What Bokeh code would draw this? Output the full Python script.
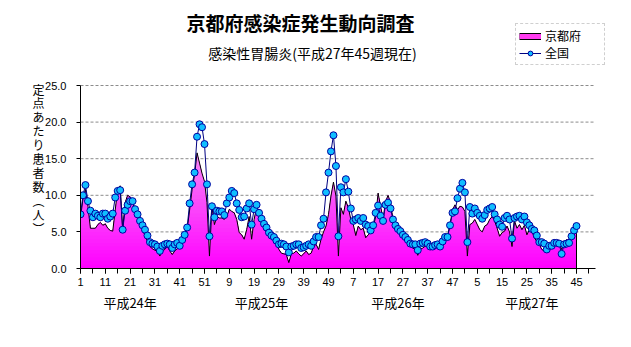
import numpy as np
from bokeh.plotting import figure
from bokeh.models import (Range1d, FixedTicker, Label, Legend, LegendItem,
                          NumeralTickFormatter, LinearAxis)
from bokeh.embed import file_html
from bokeh.resources import INLINE

# ---------------- data ----------------
title = "京都府感染症発生動向調査"
subtitle = "感染性胃腸炎(平成27年45週現在)"
y_axis_chars = ["定", "点", "あ", "た", "り", "患", "者", "数", "︵", "人", "︶"]
year_labels = ["平成24年", "平成25年", "平成26年", "平成27年"]
weeks_per_year = [52, 52, 52, 45]
series_names = ["京都府", "全国"]
y_ticks = [0, 5, 10, 15, 20, 25]

kyoto_h24 = [7.0, 9.5, 10.8, 8.5, 5.5, 5.5, 5.5, 6.0, 6.3, 5.9,
             6.1, 5.5, 5.2, 5.1, 8.0, 10.8, 11.3, 5.3, 9.0, 10.0,
             9.8, 9.0, 8.0, 7.1, 6.2, 5.3, 4.5, 3.7, 3.0, 2.7,
             2.5, 2.4, 1.7, 2.4, 2.6, 3.0, 2.4, 1.9, 2.4, 2.7,
             2.8, 3.3, 4.2, 5.3, 8.0, 10.8, 12.8, 15.8, 14.4, 13.0,
             11.9, 9.0]
kyoto_h25 = [1.7, 8.5, 6.0, 7.1, 6.9, 6.9, 6.7, 7.1, 8.1, 7.8,
             7.6, 6.7, 4.9, 4.6, 4.0, 5.3, 7.1, 4.0, 6.7, 8.3,
             7.4, 6.2, 5.5, 4.9, 4.4, 4.2, 3.9, 3.3, 2.6, 2.1,
             2.0, 1.9, 0.8, 2.0, 2.1, 2.4, 2.0, 1.7, 2.0, 2.4,
             1.9, 2.1, 3.0, 3.3, 2.6, 4.0, 5.0, 5.8, 7.4, 9.9,
             11.8, 9.9]
kyoto_h26 = [1.7, 8.3, 7.4, 9.2, 8.3, 6.7, 6.0, 4.5, 5.8, 5.3,
             5.5, 4.2, 4.6, 4.9, 5.5, 7.1, 10.3, 8.5, 6.8, 9.1,
             10.0, 9.0, 6.7, 5.8, 5.3, 4.9, 4.4, 4.0, 3.5, 3.1,
             2.8, 2.6, 1.8, 2.6, 2.8, 3.05, 2.95, 2.7, 2.8, 2.95,
             3.05, 2.7, 3.5, 4.2, 4.4, 6.0, 8.0, 8.7, 8.0, 8.5,
             8.4, 7.8]
kyoto_h27 = [1.7, 6.0, 6.2, 6.7, 6.0, 5.3, 5.0, 5.8, 6.0, 6.7,
             7.1, 6.5, 5.5, 4.4, 4.9, 5.1, 5.8, 5.0, 3.0, 6.5,
             5.5, 6.0, 5.3, 5.9, 4.6, 5.3, 5.1, 4.2, 3.7, 3.3,
             2.6, 2.4, 2.4, 2.8, 2.8, 3.3, 3.4, 3.5, 2.6, 3.5,
             3.95, 3.8, 4.6, 6.0, 6.2]

national_h24 = [7.4, 10.0, 11.4, 9.2, 7.9, 7.0, 7.5, 7.2, 7.0, 7.5,
                7.5, 6.8, 7.1, 7.5, 9.7, 10.6, 10.7, 5.3, 7.9, 8.7,
                9.2, 9.2, 8.1, 7.4, 6.5, 5.9, 5.3, 4.5, 3.6, 3.4,
                3.3, 3.0, 2.4, 3.1, 3.3, 3.4, 3.3, 2.8, 3.3, 3.5,
                3.1, 3.9, 4.6, 5.6, 8.9, 11.5, 13.1, 18.0, 19.7, 19.3,
                17.0, 11.5]
national_h25 = [4.4, 8.5, 7.0, 7.9, 7.8, 7.8, 7.3, 8.9, 9.7, 10.6,
                10.3, 8.9, 8.0, 7.0, 7.1, 8.2, 8.9, 6.0, 8.1, 8.7,
                7.6, 6.8, 6.1, 5.6, 4.9, 4.5, 4.3, 3.8, 3.3, 3.4,
                3.3, 3.0, 2.2, 3.0, 3.1, 3.3, 3.3, 2.8, 2.9, 3.1,
                3.3, 3.1, 3.7, 4.3, 4.3, 5.9, 6.8, 10.4, 13.1, 16.0,
                18.2, 14.0]
national_h26 = [4.4, 11.1, 10.4, 12.2, 10.5, 8.2, 6.5, 6.7, 6.9, 6.5,
                6.9, 6.0, 5.8, 5.2, 5.9, 7.6, 8.6, 7.2, 6.5, 8.7,
                9.0, 8.2, 6.7, 5.9, 5.4, 5.1, 4.6, 4.3, 3.9, 3.4,
                3.3, 3.3, 2.5, 3.4, 3.5, 3.6, 3.4, 3.0, 3.0, 3.2,
                3.3, 3.0, 3.7, 4.3, 4.3, 5.9, 7.6, 7.8, 9.6, 10.9,
                11.7, 10.4]
national_h27 = [3.6, 8.4, 7.5, 8.2, 7.6, 7.2, 6.8, 7.3, 8.0, 8.2,
                8.4, 7.4, 6.7, 6.0, 5.7, 6.9, 7.2, 6.7, 4.1, 6.9,
                7.1, 7.2, 6.7, 7.1, 6.3, 5.9, 5.4, 5.2, 4.5, 3.6,
                3.6, 3.4, 2.6, 3.1, 3.1, 3.5, 3.5, 3.4, 2.0, 3.3,
                3.4, 3.5, 4.4, 5.2, 5.8]

# ---------------- derived ----------------
weeks = [w for n in weeks_per_year for w in range(1, n + 1)]
kyoto = np.array(kyoto_h24 + kyoto_h25 + kyoto_h26 + kyoto_h27, dtype=float)
national = np.array(national_h24 + national_h25 + national_h26 + national_h27, dtype=float)
assert len(kyoto) == len(weeks) == len(national)
x = np.arange(len(weeks), dtype=float)
year_starts = np.cumsum([0] + weeks_per_year[:-1])

FONT = "Noto Sans CJK JP"
NUMFONT = "Liberation Sans"
CIRCLE_FILL = "#10BEFF"
CIRCLE_LINE = "#0000A0"

# layout constants (pixels)
W, H = 631, 347
FL, FB = 80, 268          # frame left, x-axis position (from top)
PX_PER_WEEK = 2.48
PX_PER_UNIT = 7.32
AXIS_END = 207.6          # axis extent in week-index units
X_END = (W - FL) / PX_PER_WEEK
Y_END = FB / PX_PER_UNIT

p = figure(width=W, height=H, output_backend="svg", toolbar_location=None,
           title=None,
           x_range=Range1d(0, X_END), y_range=Range1d(0, Y_END),
           min_border_left=FL, min_border_right=0, min_border_top=0,
           min_border_bottom=H - FB, outline_line_color=None,
           background_fill_color="white", border_fill_color="white")

# grid lines (limited to the axis extent)
grid_vals = y_ticks[1:]
p.segment(x0=[0.0] * len(grid_vals), y0=grid_vals,
          x1=[AXIS_END] * len(grid_vals), y1=grid_vals,
          line_color="#8c8c8c", line_width=1, line_dash="3 2")

# gradient-filled area (layered bands)
bottom_c = np.array([255, 0, 255], dtype=float)
top_c = np.array([242, 212, 242], dtype=float)
for L in np.arange(20.0, 0.0, -0.5):
    t = (L - 0.25) / 25.0
    c = bottom_c + (top_c - bottom_c) * t
    col = "#%02x%02x%02x" % tuple(int(round(v)) for v in c)
    p.varea(x=x, y1=np.zeros_like(kyoto), y2=np.minimum(kyoto, L),
            fill_color=col, fill_alpha=1.0)

x_line = np.append(x, x[-1])
y_line = np.append(kyoto, 0.0)
p.line(x_line, y_line, line_color="#000000", line_width=1)

nat_line = p.line(x, national, line_color="#000080", line_width=1)
nat_pts = p.scatter(x, national, size=7, marker="circle", fill_color=CIRCLE_FILL,
                    line_color=CIRCLE_LINE, line_width=1)

# axes
p.xaxis.bounds = (0, AXIS_END)
p.xaxis.ticker = FixedTicker(ticks=list(range(0, len(weeks), 10)),
                             minor_ticks=list(range(0, 206, 5)))
p.xaxis.major_label_overrides = {i: str(weeks[i]) for i in range(0, len(weeks), 10)}
p.xaxis.major_tick_in = 0
p.xaxis.major_tick_out = 5
p.xaxis.minor_tick_in = 0
p.xaxis.minor_tick_out = 5
p.xaxis.minor_tick_line_color = "black"
p.xaxis.major_tick_line_color = "black"
p.xaxis.axis_line_color = "black"
p.xaxis.major_label_text_font = NUMFONT
p.xaxis.major_label_text_font_size = "11px"
p.xaxis.major_label_text_color = "black"
p.xaxis.major_label_standoff = 4

p.yaxis.bounds = (0, 25)
p.yaxis.ticker = FixedTicker(ticks=y_ticks)
p.yaxis.formatter = NumeralTickFormatter(format="0.0")
p.yaxis.major_tick_in = 0
p.yaxis.major_tick_out = 4
p.yaxis.minor_tick_line_color = None
p.yaxis.axis_line_color = "black"
p.yaxis.major_tick_line_color = "black"
p.yaxis.major_label_text_font = NUMFONT
p.yaxis.major_label_text_font_size = "11px"
p.yaxis.major_label_text_color = "black"
p.yaxis.major_label_standoff = 10

p.xgrid.visible = False
p.ygrid.visible = False

# year labels as a second bottom axis
year_offsets = [20, 21, 24, 26]
year_ticks = [int(s) + o for s, o in zip(year_starts, year_offsets)]
year_axis = LinearAxis(ticker=FixedTicker(ticks=year_ticks),
                       major_label_overrides={t: lab for t, lab in zip(year_ticks, year_labels)},
                       axis_line_color=None, major_tick_line_color=None,
                       minor_tick_line_color=None, major_label_standoff=-2,
                       major_label_text_font=FONT, major_label_text_font_size="13px",
                       major_label_text_color="black")
p.add_layout(year_axis, "below")

# vertical y-axis title as a second left axis
title_tick = 15
ytitle_axis = LinearAxis(ticker=FixedTicker(ticks=[title_tick]),
                         major_label_overrides={title_tick: "\n".join(y_axis_chars)},
                         axis_line_color=None, major_tick_line_color=None,
                         minor_tick_line_color=None, major_label_standoff=-8,
                         major_label_text_font=FONT, major_label_text_font_size="12px",
                         major_label_text_color="black",
                         major_label_text_line_height=0.82)
p.add_layout(ytitle_axis, "left")

# legend: bar swatch for Kyoto (dummy, nothing drawn in the plot), real renderers for national
lk1 = p.line(x=[np.nan], y=[np.nan], line_color="#000000", line_width=7)
lk2 = p.line(x=[np.nan], y=[np.nan], line_color="#FF3CF0", line_width=5)
legend = Legend(items=[LegendItem(label=series_names[0], renderers=[lk1, lk2]),
                       LegendItem(label=series_names[1], renderers=[nat_line, nat_pts])],
                location=(515 - FL, FB - 65), orientation="vertical",
                label_text_font=FONT, label_text_font_size="12px",
                label_text_color="black",
                glyph_width=22, glyph_height=12, label_height=12, label_width=56,
                spacing=0, padding=3, margin=0, label_standoff=4,
                border_line_color="#a0a0a0", border_line_dash="2 1",
                background_fill_color="white", background_fill_alpha=1.0)
p.add_layout(legend)


def add_label(text, X, Y, size, bold=False):
    lab = Label(x=X - FL, y=FB - Y, x_units="screen", y_units="screen",
                text=text, text_font=FONT, text_font_size=size,
                text_font_style="bold" if bold else "normal",
                text_align="center", text_baseline="middle", text_color="black")
    p.add_layout(lab)


add_label(title, 300, 22, "19px", bold=True)
add_label(subtitle, 312, 52, "14px")

open("out.html", "w").write(file_html(p, INLINE))
